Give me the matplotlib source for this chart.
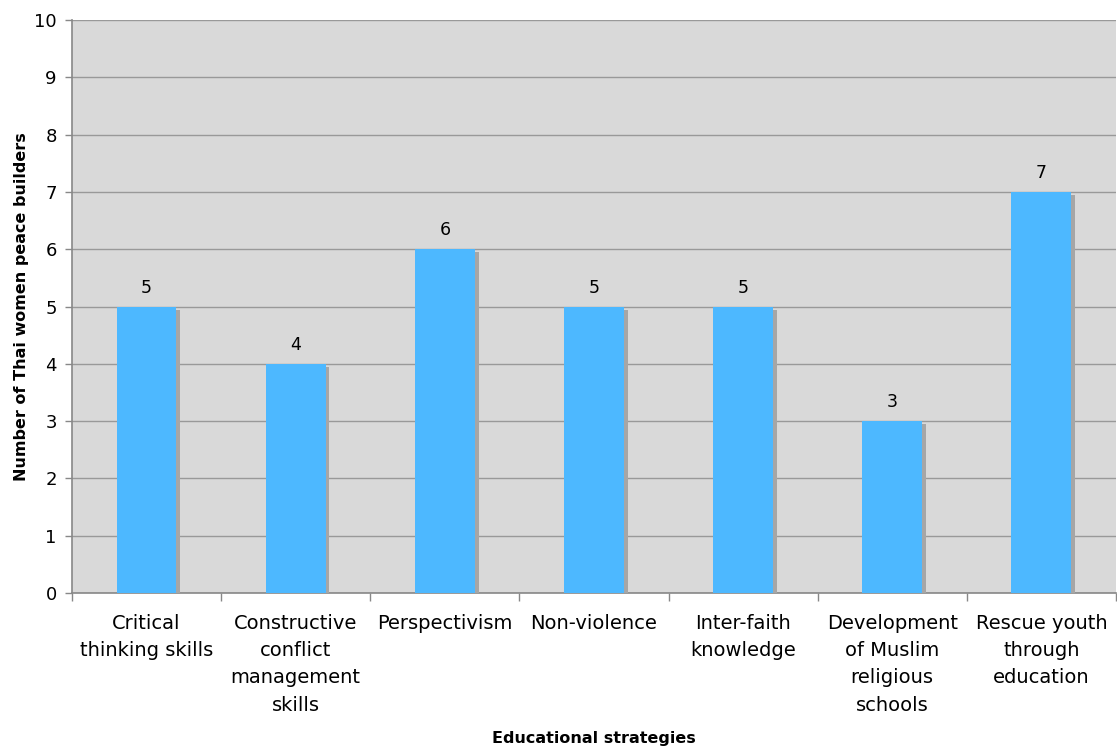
import matplotlib
matplotlib.use("Agg")
import matplotlib.pyplot as plt
import matplotlib.patheffects as pe

categories = [
    "Critical\nthinking skills",
    "Constructive\nconflict\nmanagement\nskills",
    "Perspectivism",
    "Non-violence",
    "Inter-faith\nknowledge",
    "Development\nof Muslim\nreligious\nschools",
    "Rescue youth\nthrough\neducation",
]
counts = [5, 4, 6, 5, 5, 3, 7]
y_ticks = list(range(0, 11))

plt.rcParams["font.family"] = ["DejaVu Sans"]

fig = plt.figure(figsize=(11.17, 7.5), dpi=100)
ax = fig.add_axes([0.0645, 0.2093, 0.9345, 0.764])
ax.set_facecolor("#D9D9D9")

x = list(range(len(categories)))
bars = ax.bar(x, counts, width=0.4, color="#4DB8FF", zorder=3,
              path_effects=[pe.SimplePatchShadow(offset=(2.8, -2.2),
                                                 shadow_rgbFace="#A6A6A6",
                                                 alpha=1.0),
                            pe.Normal()])

for xi, v in zip(x, counts):
    ax.text(xi, v + 0.17, str(v), ha="center", va="bottom", fontsize=12.5,
            color="black", zorder=4)

ax.set_xlim(-0.5, len(categories) - 0.5)
ax.set_ylim(0, 10)
ax.set_yticks(y_ticks)
ax.set_yticklabels([str(t) for t in y_ticks], fontsize=13)
ax.yaxis.grid(True, color="#999999", linewidth=1.0, zorder=1)
ax.set_axisbelow(True)

ax.set_xticks(x)
ax.set_xticklabels(categories, fontsize=14, linespacing=1.55, va="top")
ax.set_xticks([i - 0.5 for i in range(len(categories) + 1)], minor=True)
ax.tick_params(axis="x", which="major", length=0, pad=15)
ax.tick_params(axis="x", which="minor", length=6, color="#888888", width=1)
ax.tick_params(axis="y", length=5, color="#888888", width=1, pad=6)

for side in ("top", "right"):
    ax.spines[side].set_visible(False)
for side in ("left", "bottom"):
    ax.spines[side].set_color("#888888")
    ax.spines[side].set_linewidth(1.2)

ax.set_ylabel("Number of Thai women peace builders", fontsize=11.5,
              fontweight="bold", labelpad=4)
fig.text(0.5 * (0.0645 + 0.999), 0.006, "Educational strategies",
         ha="center", va="bottom", fontsize=11.5, fontweight="bold")

fig.savefig("out.png", dpi=100)
